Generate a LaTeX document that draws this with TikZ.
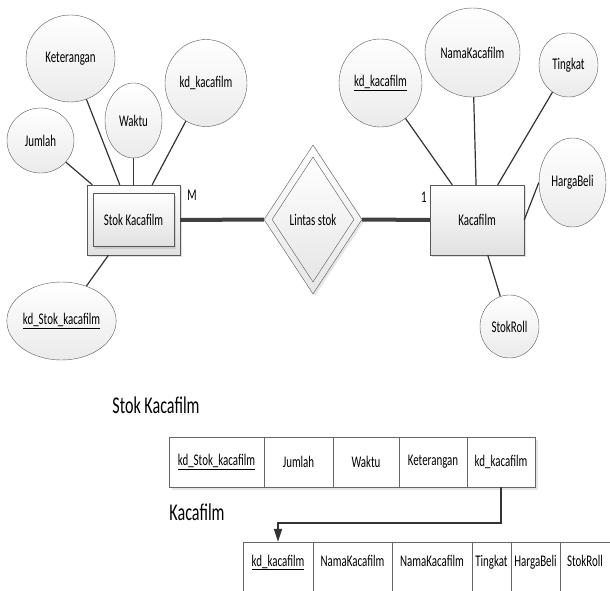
\documentclass[tikz,border=0pt]{standalone}
\usepackage{fontspec}
\setmainfont{Carlito}[FakeStretch=0.67]
\usepackage{tikz}
\usetikzlibrary{shapes.geometric,arrows.meta,shadows}

\begin{document}
\begin{tikzpicture}[x=1pt,y=-1pt,
    txt/.style={font=\fontsize{16.3pt}{18pt}\selectfont},
    attr/.style={txt,ellipse,draw=black!65,inner sep=0pt,top color=white,bottom color=black!8},
    ent/.style={txt,rectangle,draw=black!65,inner sep=0pt,top color=white,bottom color=black!12,
        drop shadow={shadow xshift=2pt,shadow yshift=-2pt,opacity=.25}},
    rel/.style={txt,diamond,draw=black!65,inner sep=0pt,top color=white,bottom color=black!10},
    link/.style={draw=black!80,line width=1.2pt},
    heavy/.style={draw=black!75,line width=4pt},
    title/.style={font=\fontsize{24pt}{27pt}\selectfont},
    cell/.style={txt,rectangle,draw=black!60,fill=white,inner sep=0pt,minimum height=50pt,
        drop shadow={shadow xshift=2.5pt,shadow yshift=-2.5pt,opacity=.2}},
    lowcell/.style={cell,minimum height=52pt,text height=11pt,text depth=15pt}]
            \useasboundingbox (0,0) rectangle (610,591);
            \clip (0,0) rectangle (610,591);

            \node[ent,minimum width=93pt,minimum height=70pt] (stok) at (133.5,220) {};
            \node[ent,minimum width=81pt,minimum height=53pt] (stokin) at (stok) {Stok Kacafilm};
            \node[ent,minimum width=94pt,minimum height=70pt] (kaca) at (477,220) {Kacafilm};

            \node[rel,minimum width=98pt,minimum height=149pt,
                drop shadow={shadow xshift=2pt,shadow yshift=-2pt,opacity=.2}] (lintas) at (313,219.5) {};
            \node[rel,minimum width=82pt,minimum height=125pt] (lintasin) at (lintas) {Lintas stok};

            \node[attr,minimum width=89pt,minimum height=87pt] (ket) at (70.5,58.5) {Keterangan};
            \node[attr,minimum width=82pt,minimum height=87pt] (kdkaca) at (206,83) {kd\_kacafilm};
            \node[attr,minimum width=57pt,minimum height=75pt] (waktu) at (133.5,120.5) {Waktu};
            \node[attr,minimum width=67pt,minimum height=65pt] (jumlah) at (40.5,140.5) {Jumlah};
            \node[attr,minimum width=109pt,minimum height=78pt] (kdstok) at (61.5,321) {\underline{kd\_Stok\_kacafilm}};

            \node[attr,minimum width=83pt,minimum height=88pt] (kdkey) at (380.5,83) {\underline{kd\_kacafilm}};
            \node[attr,minimum width=95pt,minimum height=89pt] (nama) at (472.5,52.5) {NamaKacafilm};
            \node[attr,minimum width=59pt,minimum height=64pt] (tingkat) at (568.5,65) {Tingkat};
            \node[attr,minimum width=67pt,minimum height=89pt] (harga) at (572.5,182.5) {HargaBeli};
            \node[attr,minimum width=59pt,minimum height=63pt] (roll) at (509.5,326.5) {StokRoll};

            \node[txt] (many) at (192,195) {M};
            \node[txt] (one) at (424,197) {1};

            \draw[link] (jumlah) -- (stok);
            \draw[link] (ket) -- (stok);
            \draw[link] (waktu) -- (stok);
            \draw[link] (kdkaca) -- (stok);
            \draw[link] (kdstok) -- (stok);

            \draw[link] (kdkey) -- (kaca);
            \draw[link] (nama) -- (kaca);
            \draw[link] (tingkat) -- (kaca);
            \draw[link] (harga.west) -- (kaca.east);
            \draw[link] (roll) -- (kaca);

            \draw[heavy] (stok.east) -- (lintas.west);
            \draw[heavy] (lintas.east) -- (kaca.west);

            \node[title] (stoktitle) at (156,405) {Stok Kacafilm};
            \node[cell,minimum width=95pt] (sa) at (216.5,462) {\underline{kd\_Stok\_kacafilm}};
            \node[cell,minimum width=69pt] (sb) at (298.5,462) {Jumlah};
            \node[cell,minimum width=66pt] (sc) at (366,462) {Waktu};
            \node[cell,minimum width=68pt] (sd) at (433,462) {Keterangan};
            \node[cell,minimum width=68pt] (se) at (501,462) {kd\_kacafilm};

            \node[title] (kacatitle) at (197,512) {Kacafilm};
            \node[lowcell,minimum width=70pt] (ka) at (278,568) {\underline{kd\_kacafilm}};
            \node[lowcell,minimum width=79pt] (kb) at (352.5,568) {NamaKacafilm};
            \node[lowcell,minimum width=80pt] (kc) at (432,568) {NamaKacafilm};
            \node[lowcell,minimum width=39pt] (kd) at (491.5,568) {Tingkat};
            \node[lowcell,minimum width=49pt] (ke) at (535.5,568) {HargaBeli};
            \node[lowcell,minimum width=50pt] (kf) at (585,568) {StokRoll};

            \draw[draw=black!80,line width=1.6pt,-{Triangle[length=13pt,width=8pt]}]
                (se.south) -- ++(0,36) -| (ka.north);
        \end{tikzpicture}
\end{document}
